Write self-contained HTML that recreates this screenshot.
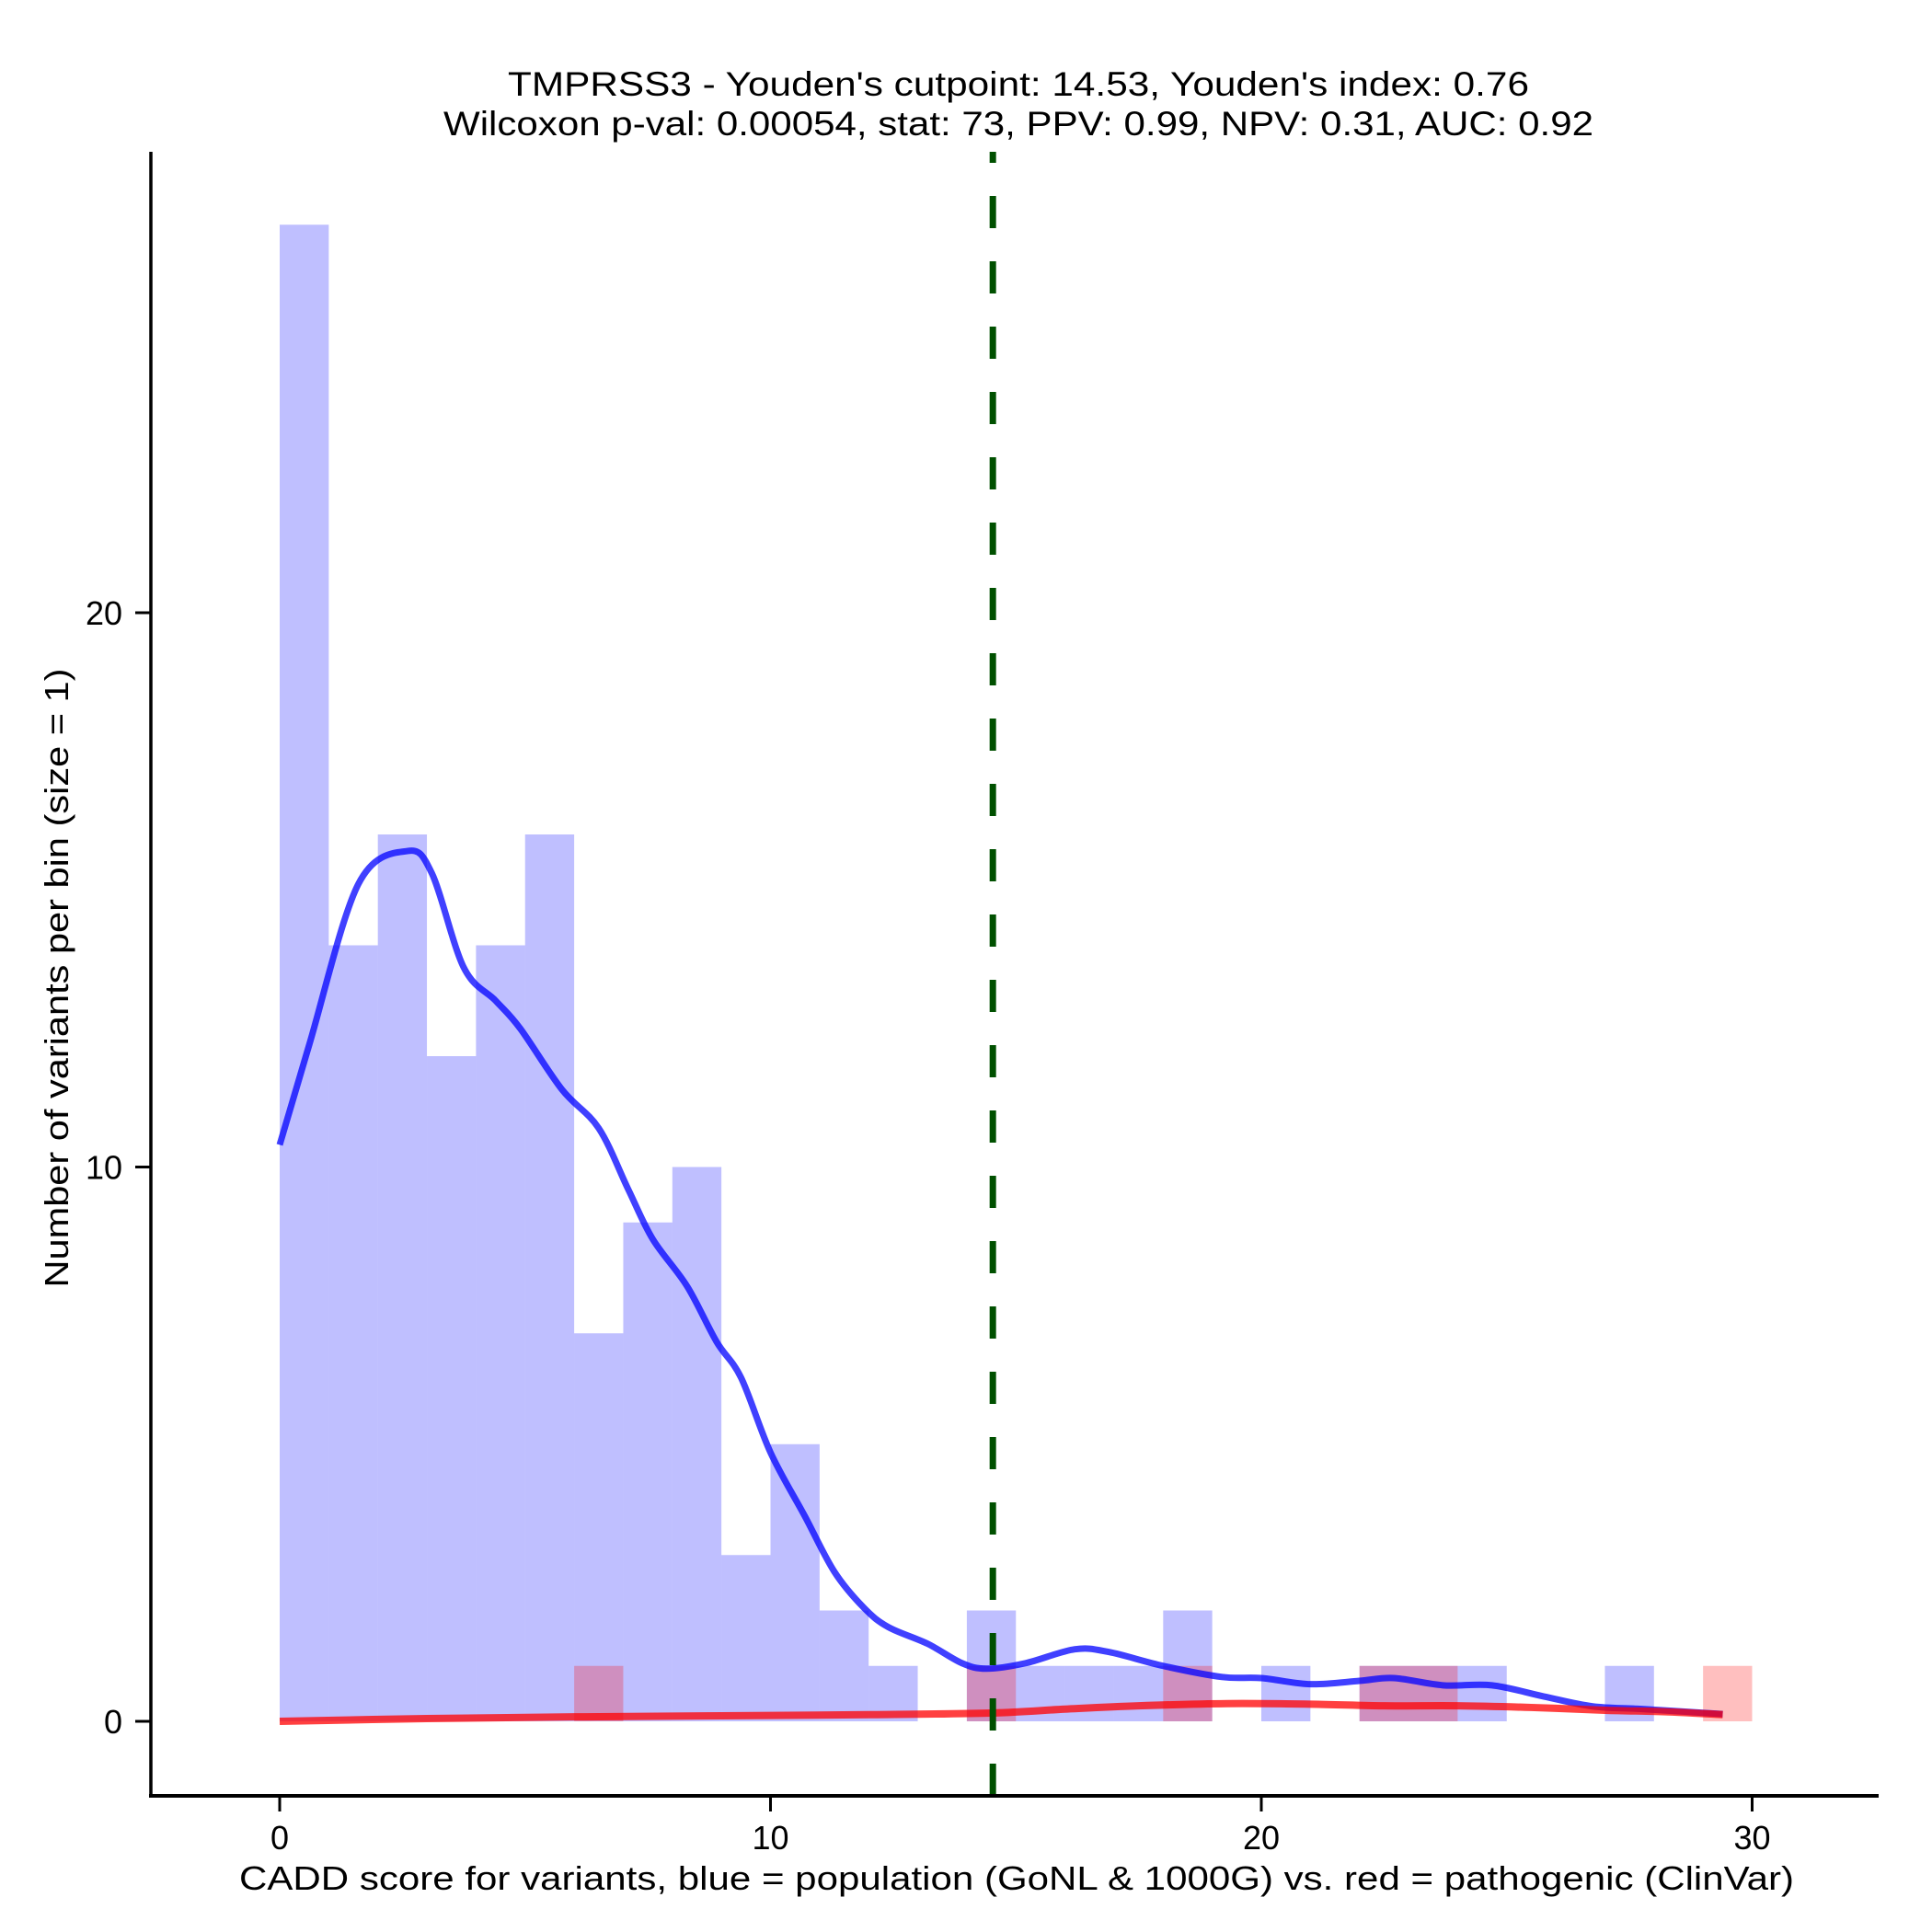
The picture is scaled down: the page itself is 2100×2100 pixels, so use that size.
<!DOCTYPE html>
<html><head><meta charset="utf-8"><style>
html,body{margin:0;padding:0;background:#fff;}
svg{display:block;font-family:"Liberation Sans",Arial,sans-serif;}
</style></head><body>
<svg id="chart" width="2100" height="2100" viewBox="0 0 2100 2100" xmlns="http://www.w3.org/2000/svg">
<rect width="2100" height="2100" fill="#fff"/>
<text x="1107" y="104" font-size="37" text-anchor="middle" textLength="1110" lengthAdjust="spacingAndGlyphs">TMPRSS3 - Youden's cutpoint: 14.53, Youden's index: 0.76</text>
<text x="1107" y="147" font-size="37" text-anchor="middle" textLength="1250" lengthAdjust="spacingAndGlyphs">Wilcoxon p-val: 0.00054, stat: 73, PPV: 0.99, NPV: 0.31, AUC: 0.92</text>
<g id="bars-blue"></g>
<g id="bars-red"></g>
<g id="lines"></g>
<g id="axes"></g>
<text transform="translate(74,1063) rotate(-90)" font-size="36" text-anchor="middle" textLength="673" lengthAdjust="spacingAndGlyphs">Number of variants per bin (size = 1)</text>
<text x="1105" y="2054" font-size="36" text-anchor="middle" textLength="1690" lengthAdjust="spacingAndGlyphs">CADD score for variants, blue = population (GoNL &amp; 1000G) vs. red = pathogenic (ClinVar)</text>
</svg>
<script>
const blueCounts = [27,14,16,12,14,16,7,9,10,3,5,2,1,0,2,1,1,1,2,0,1,0,1,1,1,0,0,1,0,0];
const redCounts  = [0,0,0,0,0,0,1,0,0,0,0,0,0,0,1,0,0,0,1,0,0,0,1,1,0,0,0,0,0,1];
const blueDensX = [0,0.6,1.6,2.6,3.1,3.75,4.4,4.9,5.75,6.5,7.1,7.6,8.3,8.9,9.4,10.0,10.7,11.3,11.9,12.4,13.2,13.9,14.4,15.2,16.2,16.9,18.0,19.2,20.0,21,22,22.7,23.7,24.7,25.75,26.75,27.8,29.4];
const blueDensY = [10.4,12.2,15.1,15.7,15.3,13.6,13.0,12.5,11.4,10.7,9.6,8.7,7.85,6.85,6.2,4.85,3.7,2.7,2.05,1.7,1.4,1.05,0.95,1.05,1.3,1.25,1.0,0.8,0.78,0.67,0.73,0.78,0.65,0.65,0.45,0.27,0.22,0.13];
const redDensX = [0,3,6,9,12,14.5,16,17.5,19.3,21,22.5,24,25.5,27,28.3,29.4];
const redDensY = [0.0,0.05,0.08,0.1,0.12,0.15,0.22,0.28,0.32,0.31,0.28,0.28,0.25,0.2,0.17,0.12];
const xTicks = [0,10,20,30];
const yTicks = [0,10,20];
const cutpoint = 14.53;

const NS="http://www.w3.org/2000/svg";
const x = v => 304 + (v)*53.35;
const y = v => 1871 - v*60.25;
function mk(tag, attrs, parent){const e=document.createElementNS(NS,tag);for(const k in attrs)e.setAttribute(k,attrs[k]);parent.appendChild(e);return e;}
const gb=document.getElementById('bars-blue'), gr=document.getElementById('bars-red'), gl=document.getElementById('lines'), ga=document.getElementById('axes');
blueCounts.forEach((c,i)=>{ if(!c) return;
  const r=mk('rect',{x:x(i),y:y(c),width:x(i+1)-x(i),height:y(0)-y(c),fill:'rgb(0,0,255)','fill-opacity':0.25},gb);
  
  
});
redCounts.forEach((c,i)=>{ if(!c) return;
  const r=mk('rect',{x:x(i),y:y(c),width:x(i+1)-x(i),height:y(0)-y(c),fill:'rgb(255,0,0)','fill-opacity':0.25},gr);
  
  
});
function smooth(xs,ys){
  const p=xs.map((v,i)=>[x(v),y(ys[i])]);
  let d='M'+p[0][0]+','+p[0][1];
  for(let i=0;i<p.length-1;i++){
    const p0=p[Math.max(0,i-1)],p1=p[i],p2=p[i+1],p3=p[Math.min(p.length-1,i+2)];
    const c1=[p1[0]+(p2[0]-p0[0])/6,p1[1]+(p2[1]-p0[1])/6];
    const c2=[p2[0]-(p3[0]-p1[0])/6,p2[1]-(p3[1]-p1[1])/6];
    d+=' C'+c1+' '+c2+' '+p2;
  }
  return d;
}
const bl=mk('path',{d:smooth(blueDensX,blueDensY),fill:'none',stroke:'rgb(0,0,255)','stroke-opacity':0.75,'stroke-width':7},gl);


const rl=mk('path',{d:smooth(redDensX,redDensY),fill:'none',stroke:'rgb(255,0,0)','stroke-opacity':0.75,'stroke-width':8},gl);


const cl=mk('line',{x1:x(cutpoint),x2:x(cutpoint),y1:165,y2:1952,stroke:'#005000','stroke-width':7,'stroke-dasharray':'35 36','stroke-dashoffset':23},gl);


const ya=mk('line',{x1:164,x2:164,y1:165,y2:1954,stroke:'#000','stroke-width':3.5},ga);


const xa=mk('line',{x1:162,x2:2042,y1:1952,y2:1952,stroke:'#000','stroke-width':4},ga);


xTicks.forEach(t=>{
  const l=mk('line',{x1:x(t),x2:x(t),y1:1952,y2:1969,stroke:'#000','stroke-width':3},ga);
  
  
  const tx=mk('text',{x:x(t),y:2010,'font-size':36,'text-anchor':'middle'},ga);
  tx.textContent=t;
  
  
});
yTicks.forEach(t=>{
  const l=mk('line',{x1:147,x2:164,y1:y(t),y2:y(t),stroke:'#000','stroke-width':3},ga);
  
  
  const tx=mk('text',{x:133,y:y(t)+13,'font-size':36,'text-anchor':'end'},ga);
  tx.textContent=t;
  
  
});
</script>
</body></html>
